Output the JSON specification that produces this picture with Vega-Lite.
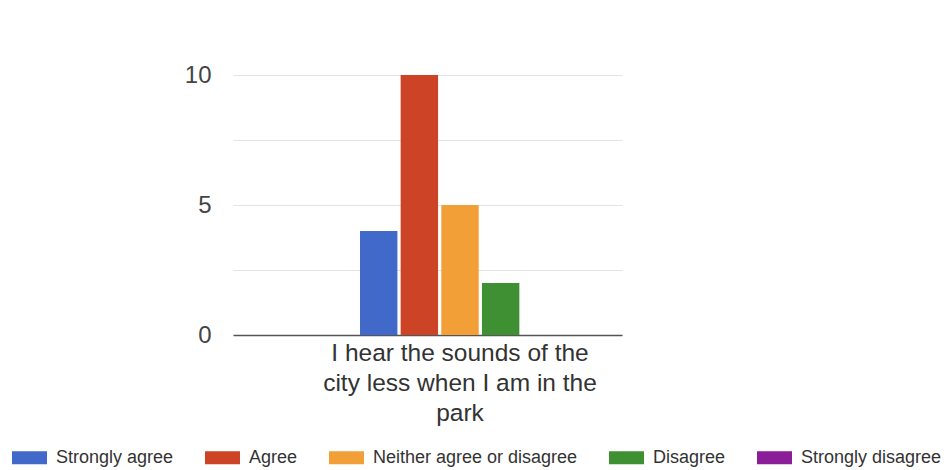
{
  "$schema": "https://vega.github.io/schema/vega-lite/v6.json",
  "autosize": {"type": "none"},
  "width": 389,
  "height": 325,
  "padding": {"left": 233, "top": 10, "right": 326, "bottom": 135},
  "background": "white",
  "config": {"view": {"stroke": null}, "font": "Liberation Sans"},
  "data": {
    "values": [
      {"question": "I hear the sounds of the city less when I am in the park", "response": "Strongly agree", "count": 4},
      {"question": "I hear the sounds of the city less when I am in the park", "response": "Agree", "count": 10},
      {"question": "I hear the sounds of the city less when I am in the park", "response": "Neither agree or disagree", "count": 5},
      {"question": "I hear the sounds of the city less when I am in the park", "response": "Disagree", "count": 2},
      {"question": "I hear the sounds of the city less when I am in the park", "response": "Strongly disagree", "count": 0}
    ]
  },
  "mark": {"type": "bar"},
  "encoding": {
    "x": {
      "field": "question",
      "type": "nominal",
      "scale": {"paddingInner": 0, "paddingOuter": 0.4725, "align": 0.672},
      "axis": {
        "title": null,
        "labelAngle": 0,
        "labelExpr": "['I hear the sounds of the', 'city less when I am in the', 'park']",
        "labelFontSize": 24.5,
        "labelLineHeight": 30,
        "labelColor": "#333",
        "labelPadding": 6,
        "labelLimit": 0,
        "labelBaseline": "top",
        "ticks": false,
        "domainColor": "#555",
        "domainWidth": 1.5
      }
    },
    "xOffset": {
      "field": "response",
      "type": "nominal",
      "sort": ["Strongly agree", "Agree", "Neither agree or disagree", "Disagree", "Strongly disagree"],
      "scale": {"paddingInner": 0.08, "paddingOuter": 0}
    },
    "y": {
      "field": "count",
      "type": "quantitative",
      "scale": {"domain": [0, 12.5], "nice": false},
      "axis": {
        "title": null,
        "values": [0, 2.5, 5, 7.5, 10],
        "labelExpr": "datum.value % 5 == 0 ? datum.label : ''",
        "labelFontSize": 24,
        "labelColor": "#444",
        "labelPadding": 22,
        "ticks": false,
        "domain": false,
        "gridColor": "#e3e3e3",
        "gridWidth": 1.2
      }
    },
    "color": {
      "field": "response",
      "type": "nominal",
      "sort": ["Strongly agree", "Agree", "Neither agree or disagree", "Disagree", "Strongly disagree"],
      "scale": {
        "domain": ["Strongly agree", "Agree", "Neither agree or disagree", "Disagree", "Strongly disagree"],
        "range": ["#4169c9", "#cc4425", "#f29f38", "#3e9033", "#8b1d99"]
      },
      "legend": {
        "title": null,
        "orient": "none",
        "direction": "horizontal",
        "legendX": -221,
        "legendY": 430,
        "symbolType": "M-1,-0.37H1V0.37H-1Z",
        "symbolSize": 1225,
        "symbolStrokeWidth": 0,
        "symbolOpacity": 1,
        "labelFontSize": 18,
        "labelColor": "#333",
        "labelOffset": 9,
        "columnPadding": 31,
        "labelLimit": 0
      }
    }
  }
}
